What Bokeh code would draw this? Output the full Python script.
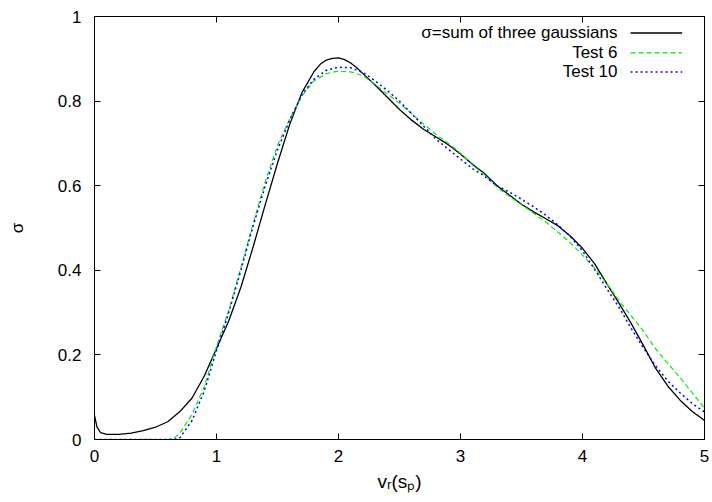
from bokeh.plotting import figure
from bokeh.models import Range1d, FixedTicker, LinearAxis, Label, CustomJSTickFormatter
from bokeh.embed import file_html
from bokeh.resources import INLINE

# ---------------- data ----------------
x_sum = [0.0, 0.02, 0.05, 0.1, 0.2, 0.3, 0.4, 0.5, 0.6, 0.7, 0.8, 0.9, 1.0, 1.1, 1.2, 1.3, 1.4, 1.5,
         1.6, 1.7, 1.8, 1.85, 1.9, 1.95, 2.0, 2.05, 2.1, 2.15, 2.2, 2.3, 2.4, 2.5, 2.6, 2.7, 2.8, 2.9,
         3.0, 3.1, 3.2, 3.3, 3.4, 3.5, 3.6, 3.7, 3.8, 3.9, 4.0, 4.1, 4.2, 4.3, 4.4, 4.5, 4.6, 4.7,
         4.8, 4.9, 5.0]
y_sum = [0.057, 0.030, 0.016, 0.012, 0.012, 0.015, 0.021, 0.029, 0.042, 0.066, 0.098, 0.150, 0.215,
         0.280, 0.360, 0.455, 0.556, 0.653, 0.745, 0.820, 0.870, 0.887, 0.897, 0.901, 0.902, 0.898,
         0.890, 0.879, 0.865, 0.838, 0.809, 0.780, 0.755, 0.733, 0.715, 0.697, 0.675, 0.650, 0.628,
         0.600, 0.578, 0.556, 0.538, 0.522, 0.505, 0.481, 0.452, 0.415, 0.368, 0.322, 0.274, 0.222,
         0.168, 0.126, 0.093, 0.066, 0.045]

x_t6 = [0.0, 0.3, 0.6, 0.65, 0.7, 0.8, 0.9, 1.0, 1.1, 1.2, 1.3, 1.4, 1.5, 1.6, 1.7, 1.8, 1.9, 2.0,
        2.1, 2.2, 2.3, 2.4, 2.5, 2.6, 2.7, 2.8, 2.9, 3.0, 3.1, 3.2, 3.3, 3.4, 3.5, 3.6, 3.7, 3.8,
        3.9, 4.0, 4.1, 4.2, 4.3, 4.4, 4.5, 4.6, 4.7, 4.8, 4.9, 5.0]
y_t6 = [0.0, 0.0, 0.0, 0.003, 0.015, 0.060, 0.125, 0.220, 0.305, 0.407, 0.510, 0.610, 0.695, 0.758,
        0.812, 0.848, 0.865, 0.871, 0.869, 0.860, 0.840, 0.817, 0.795, 0.770, 0.745, 0.721, 0.700,
        0.677, 0.648, 0.625, 0.596, 0.575, 0.555, 0.535, 0.514, 0.490, 0.465, 0.436, 0.405, 0.368,
        0.328, 0.292, 0.256, 0.214, 0.180, 0.146, 0.110, 0.074]

x_t10 = [0.0, 0.3, 0.65, 0.7, 0.8, 0.9, 1.0, 1.1, 1.2, 1.3, 1.4, 1.5, 1.6, 1.7, 1.8, 1.9, 2.0,
         2.1, 2.2, 2.3, 2.4, 2.5, 2.6, 2.7, 2.8, 2.9, 3.0, 3.1, 3.2, 3.3, 3.4, 3.5, 3.6, 3.7, 3.8,
         3.9, 4.0, 4.1, 4.2, 4.3, 4.4, 4.5, 4.6, 4.7, 4.8, 4.9, 5.0]
y_t10 = [0.0, 0.0, 0.0, 0.004, 0.045, 0.115, 0.210, 0.300, 0.400, 0.505, 0.600, 0.685, 0.755, 0.815,
         0.852, 0.873, 0.880, 0.879, 0.868, 0.848, 0.825, 0.800, 0.770, 0.740, 0.710, 0.686, 0.663,
         0.640, 0.622, 0.600, 0.585, 0.568, 0.550, 0.530, 0.507, 0.480, 0.446, 0.402, 0.356, 0.312,
         0.262, 0.216, 0.174, 0.138, 0.110, 0.085, 0.065]

series_labels = ["σ=sum of three gaussians", "Test 6", "Test 10"]
x_ticks = [0, 1, 2, 3, 4, 5]
y_ticks = [0, 0.2, 0.4, 0.6, 0.8, 1]
x_label = "vᵣ(sₚ)"
y_label = "σ"

# ---------------- styling ----------------
FONT = "Liberation Sans"
FS = "17px"
colors = ["black", "#00ee00", "#0000ff"]
dashes = ["solid", "5 3", "2 3"]
widths = [1.3, 1.2, 1.5]

p = figure(width=712, height=502, output_backend="svg", toolbar_location=None,
           x_range=Range1d(0, 5), y_range=Range1d(0, 1),
           min_border_left=94, min_border_right=8, min_border_top=16, min_border_bottom=63)
p.background_fill_color = "white"
p.border_fill_color = "white"
p.outline_line_color = "black"
p.outline_line_width = 1
p.xgrid.visible = False
p.ygrid.visible = False

fmt = CustomJSTickFormatter(code="return String(Number(tick.toFixed(2)));")

for ax, tk in ((p.xaxis[0], x_ticks), (p.yaxis[0], y_ticks)):
    ax.ticker = FixedTicker(ticks=tk)
    ax.formatter = fmt
    ax.major_tick_in = 6
    ax.major_tick_out = 0
    ax.minor_tick_line_color = None
    ax.axis_line_color = "black"
    ax.major_tick_line_color = "black"
    ax.major_label_text_font = FONT
    ax.major_label_text_font_size = FS
    ax.major_label_text_color = "black"
    ax.axis_label_text_font = FONT
    ax.axis_label_text_font_size = FS
    ax.axis_label_text_font_style = "normal"
    ax.axis_label_text_color = "black"

p.xaxis.major_label_standoff = 10
p.yaxis.major_label_standoff = 13
p.yaxis.axis_label = y_label
p.yaxis.axis_label_standoff = 28
p.xaxis.axis_label = x_label
p.xaxis.axis_label_text_font_size = "19px"
p.xaxis.axis_label_standoff = 6

# mirror ticks (no labels)
blank = CustomJSTickFormatter(code="return '';")
for side, tk in (("above", x_ticks), ("right", y_ticks)):
    ax = LinearAxis(ticker=FixedTicker(ticks=tk), formatter=blank,
                    major_label_standoff=0, major_tick_in=6, major_tick_out=0,
                    minor_tick_line_color=None, axis_line_color="black",
                    major_tick_line_color="black")
    p.add_layout(ax, side)

# curves
for xs, ys, c, d, w in ((x_sum, y_sum, colors[0], dashes[0], widths[0]),
                        (x_t6, y_t6, colors[1], dashes[1], widths[1]),
                        (x_t10, y_t10, colors[2], dashes[2], widths[2])):
    p.line(x=xs, y=ys, line_color=c, line_dash=d, line_width=w)

# key (text right-aligned, sample to its right, as gnuplot does)
LEG_TX = 4.287
LEG_X0, LEG_X1 = 4.394, 4.817
LEG_Y = [0.961, 0.914, 0.869]
for lab, ly, c, d, w in zip(series_labels, LEG_Y, colors, dashes, widths):
    p.add_layout(Label(x=LEG_TX, y=ly, text=lab, text_align="right", text_baseline="middle",
                       text_font=FONT, text_font_size=FS, text_color="black"))
    p.segment(x0=[LEG_X0], y0=[ly], x1=[LEG_X1], y1=[ly], line_color=c, line_dash=d, line_width=w)

open("out.html", "w").write(file_html(p, INLINE))
